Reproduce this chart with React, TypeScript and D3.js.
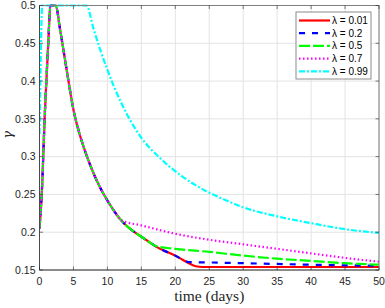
import React from "react";
import * as d3 from "d3";

const W = 385;
const H = 308;
const margin = { top: 5.5, right: 6, bottom: 38, left: 39.5 };

const xTicks = [0, 5, 10, 15, 20, 25, 30, 35, 40, 45, 50];
const yTicks = [0.15, 0.2, 0.25, 0.3, 0.35, 0.4, 0.45, 0.5];

// shared early part of the response (all lambdas except 0.99 overlap here)
const early: [number, number][] = [
  [0, 0.205], [0.3, 0.245], [0.8, 0.36], [1.3, 0.452], [1.6, 0.5], [2.4, 0.5],
  [3, 0.47], [4, 0.415], [5, 0.362], [6, 0.327], [7, 0.3], [8, 0.277],
  [9, 0.258], [10, 0.242], [11, 0.228], [12, 0.216],
];
const mid: [number, number][] = [
  [13, 0.207], [14, 0.2], [15, 0.194], [16, 0.188], [17, 0.182],
];
const late: [number, number][] = [
  [18, 0.177], [19, 0.173], [20, 0.169], [21, 0.164],
];

const lam001: [number, number][] = [...early, ...mid, ...late, [22, 0.159], [23, 0.155], [24, 0.154], [50, 0.154]];
const lam02: [number, number][] = [...early, ...mid, ...late, [22, 0.1605], [25, 0.16], [30, 0.159], [40, 0.157], [50, 0.1555]];
const lam05: [number, number][] = [...early, ...mid, [20, 0.178], [25, 0.174], [30, 0.169], [35, 0.165], [40, 0.162], [45, 0.159], [50, 0.157]];
const lam07: [number, number][] = [...early, [15, 0.209], [20, 0.198], [25, 0.19], [30, 0.184], [35, 0.178], [40, 0.172], [45, 0.166], [50, 0.161]];
const lam099: [number, number][] = [
  [0, 0.33], [0.2, 0.44], [0.4, 0.5], [6.9, 0.5], [8, 0.468], [9, 0.44], [10, 0.415],
  [11, 0.392], [12, 0.372], [13, 0.354], [15, 0.325], [18, 0.296], [21, 0.274],
  [24, 0.257], [27, 0.244], [30, 0.233], [35, 0.221], [40, 0.212], [45, 0.204], [50, 0.199],
];

const seriesLabels = ["λ = 0.01", "λ = 0.2", "λ = 0.5", "λ = 0.7", "λ = 0.99"];
const seriesData = [lam001, lam02, lam05, lam07, lam099];
const seriesColors = ["#ff0000", "#0000ff", "#00ff00", "#ff00ff", "#00ffff"];
const seriesDash = ["none", "6,7", "11,3", "1.5,2.5", "6,2,2,2"];

export default function App() {
  const iw = W - margin.left - margin.right;
  const ih = H - margin.top - margin.bottom;
  const x = d3.scaleLinear().domain([0, 50]).range([0, iw]);
  const y = d3.scaleLinear().domain([0.15, 0.5]).range([ih, 0]);
  const line = d3
    .line<[number, number]>()
    .x((d) => x(d[0]))
    .y((d) => y(d[1]))
    .curve(d3.curveMonotoneX);

  const font = "Arial, 'Liberation Sans', Helvetica, sans-serif";
  const axisCol = "#262626";

  return (
    <svg width={W} height={H} style={{ position: "absolute", left: 0, top: 0, background: "#fff" }}>
      <g transform={`translate(${margin.left},${margin.top})`}>
        {/* grid */}
        {xTicks.map((t) => (
          <line key={"gx" + t} x1={x(t)} x2={x(t)} y1={0} y2={ih} stroke="#e3e3e3" strokeWidth={1} />
        ))}
        {yTicks.map((t) => (
          <line key={"gy" + t} x1={0} x2={iw} y1={y(t)} y2={y(t)} stroke="#e3e3e3" strokeWidth={1} />
        ))}
        {/* curves */}
        <defs>
          <clipPath id="plotclip">
            <rect x={0} y={-1.5} width={iw} height={ih + 1.5} />
          </clipPath>
        </defs>
        <g clipPath="url(#plotclip)">
          {seriesData.map((s, i) => (
            <path
              key={i}
              d={line(s) || ""}
              fill="none"
              stroke={seriesColors[i]}
              strokeWidth={2.2}
              strokeDasharray={seriesDash[i]}
            />
          ))}
        </g>
        {/* box */}
        <rect x={0} y={0} width={iw} height={ih} fill="none" stroke="#7f7f7f" strokeWidth={1} />
        <line x1={0} x2={iw} y1={ih} y2={ih} stroke={axisCol} strokeOpacity={0.6} />
        <line x1={0} x2={0} y1={0} y2={ih} stroke={axisCol} strokeOpacity={0.6} />
        {/* ticks */}
        {xTicks.map((t) => (
          <g key={"tx" + t}>
            <line x1={x(t)} x2={x(t)} y1={ih} y2={ih - 3.5} stroke={axisCol} strokeOpacity={0.6} />
            <line x1={x(t)} x2={x(t)} y1={0} y2={3.5} stroke={axisCol} strokeOpacity={0.6} />
            <text x={x(t)} y={ih + 15} textAnchor="middle" fontFamily={font} fontSize={10.5} fill={axisCol}>
              {t}
            </text>
          </g>
        ))}
        {yTicks.map((t) => (
          <g key={"ty" + t}>
            <line x1={0} x2={3.5} y1={y(t)} y2={y(t)} stroke={axisCol} strokeOpacity={0.6} />
            <line x1={iw} x2={iw - 3.5} y1={y(t)} y2={y(t)} stroke={axisCol} strokeOpacity={0.6} />
            <text x={-4} y={y(t)} dy="0.35em" textAnchor="end" fontFamily={font} fontSize={10.5} fill={axisCol}>
              {d3.format("")(t)}
            </text>
          </g>
        ))}
        {/* legend */}
        <g transform={`translate(${296 - margin.left},${12 - margin.top})`}>
          <rect x={0} y={0} width={75} height={67} fill="#fff" stroke="#8c8c8c" strokeWidth={1} />
          {seriesLabels.map((lab, i) => (
            <g key={lab} transform={`translate(0,${8.5 + i * 12.7})`}>
              <line x1={3} x2={34} y1={0} y2={0} stroke={seriesColors[i]} strokeWidth={2.2} strokeDasharray={seriesDash[i]} />
              <text x={36} y={0} dy="0.35em" fontFamily={font} fontSize={10} fill="#000">
                {lab}
              </text>
            </g>
          ))}
        </g>
      </g>
      <text
        transform={`translate(12,${margin.top + ih / 2 - 3}) rotate(-90)`}
        textAnchor="middle"
        fontFamily="'DejaVu Serif', 'Liberation Serif', serif"
        fontStyle="italic"
        fontSize={13}
        fill={axisCol}
      >
        γ
      </text>
      <text
        x={margin.left + iw / 2}
        y={301}
        textAnchor="middle"
        fontFamily="'Liberation Serif', 'Times New Roman', serif"
        fontSize={15.5}
        fill={axisCol}
      >
        time (days)
      </text>
    </svg>
  );
}
